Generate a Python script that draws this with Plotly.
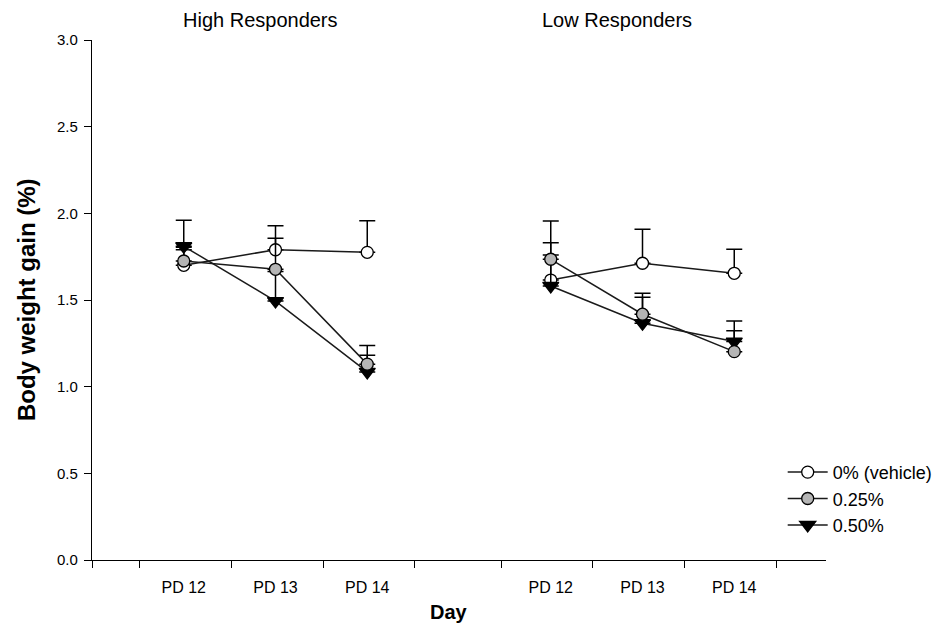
import plotly.graph_objects as go

# ---- data ----
days = ["PD 12", "PD 13", "PD 14"]
groups = ["High Responders", "Low Responders"]
series_names = ["0% (vehicle)", "0.25%", "0.50%"]

# mean values, High Responders
hr_vehicle = [1.70, 1.79, 1.775]
hr_025 = [1.725, 1.677, 1.13]
hr_050 = [1.81, 1.494, 1.085]
# mean values, Low Responders
lr_vehicle = [1.615, 1.712, 1.654]
lr_025 = [1.735, 1.418, 1.202]
lr_050 = [1.581, 1.366, 1.26]

# upper error (SEM), High Responders
hr_vehicle_err = [0.09, 0.138, 0.182]
hr_025_err = [0.08, 0.179, 0.107]
hr_050_err = [0.15, 0.17, 0.096]
# upper error (SEM), Low Responders
lr_vehicle_err = [0.216, 0.196, 0.139]
lr_025_err = [0.221, 0.121, 0.121]
lr_050_err = [0.179, 0.15, 0.119]

y_ticks = [0.0, 0.5, 1.0, 1.5, 2.0, 2.5, 3.0]

# ---- layout helpers ----
group_offset = {"High Responders": 1, "Low Responders": 5}
x_hr = [group_offset["High Responders"] + i for i in range(len(days))]
x_lr = [group_offset["Low Responders"] + i for i in range(len(days))]

FONT = "Liberation Sans, Arial, sans-serif"

styles = {
    "0% (vehicle)": dict(symbol="circle", size=12, color="white"),
    "0.25%": dict(symbol="circle", size=12, color="#b5b5b5"),
    "0.50%": dict(symbol="triangle-down", size=14, color="black"),
}

data = {
    "0% (vehicle)": (hr_vehicle, hr_vehicle_err, lr_vehicle, lr_vehicle_err),
    "0.25%": (hr_025, hr_025_err, lr_025, lr_025_err),
    "0.50%": (hr_050, hr_050_err, lr_050, lr_050_err),
}

fig = go.Figure()

draw_order = ["0% (vehicle)", "0.50%", "0.25%"]
for name in draw_order:
    hr, hre, lr, lre = data[name]
    st = styles[name]
    rank = series_names.index(name) + 1
    for xs, ys, es, show in [(x_hr, hr, hre, True), (x_lr, lr, lre, False)]:
        fig.add_trace(go.Scatter(
            x=xs, y=ys, mode="lines+markers", name=name,
            legendgroup=name, showlegend=show, legendrank=rank,
            line=dict(color="#1a1a1a", width=1.5),
            marker=dict(symbol=st["symbol"], size=st["size"], color=st["color"],
                        line=dict(color="black", width=1.3)),
            error_y=dict(type="data", symmetric=False, array=es,
                         arrayminus=[0] * len(es), color="black",
                         thickness=1.5, width=8),
        ))

# the page body has an 8px margin, so the figure is 8px smaller on each axis
fig.update_layout(
    width=942, height=618,
    margin=dict(l=84, r=112, t=32, b=66),
    paper_bgcolor="white", plot_bgcolor="white",
    font=dict(family=FONT, color="black", size=15),
    showlegend=True,
    legend=dict(x=0.941, xanchor="left", y=0.204, yanchor="top",
                font=dict(size=18, family=FONT), bgcolor="rgba(0,0,0,0)",
                tracegroupgap=0, itemwidth=40),
    xaxis=dict(range=[0, 8], showgrid=False, zeroline=False, automargin=False,
               showline=True, linecolor="black", linewidth=1.4,
               tickvals=x_hr + x_lr, ticktext=days + days, ticks="",
               ticklabelstandoff=13, tickfont=dict(size=16, family=FONT),
               minor=dict(tickvals=[0, 0.52, 1.52, 2.52, 3.52, 4.46, 5.46, 6.46, 7.46],
                          ticks="outside", ticklen=7, tickwidth=1.4, tickcolor="black",
                          showgrid=False)),
    yaxis=dict(range=[0, 3], showgrid=False, zeroline=False, automargin=False,
               showline=True, linecolor="black", linewidth=1.4,
               tickvals=y_ticks, tickformat=".1f", ticks="outside", ticklen=7,
               tickwidth=1.4, tickcolor="black", ticklabelstandoff=3,
               tickfont=dict(size=15, family=FONT)),
)

fig.add_annotation(text="<b>Body weight gain (%)</b>", xref="paper", yref="paper",
                   x=-0.0898, y=0.5, xanchor="center", yanchor="middle", textangle=-90,
                   showarrow=False, font=dict(size=24, family=FONT))
fig.add_annotation(text="<b>Day</b>", xref="paper", yref="paper",
                   x=0.487, y=-0.1, xanchor="center", yanchor="middle",
                   showarrow=False, font=dict(size=20, family=FONT))
fig.add_annotation(text=groups[0], xref="paper", yref="paper",
                   x=0.2295, y=1.038, xanchor="center", yanchor="middle",
                   showarrow=False, font=dict(size=20, family=FONT))
fig.add_annotation(text=groups[1], xref="paper", yref="paper",
                   x=0.7146, y=1.038, xanchor="center", yanchor="middle",
                   showarrow=False, font=dict(size=20, family=FONT))

fig.write_html("out.html")
